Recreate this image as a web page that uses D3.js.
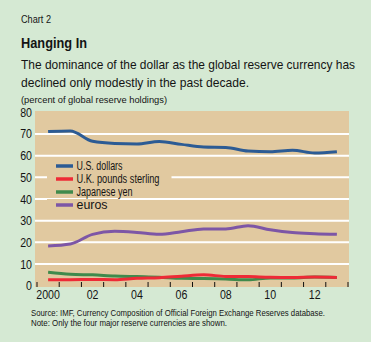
<!DOCTYPE html>
<html>
<head>
<meta charset="utf-8">
<script src="https://cdn.jsdelivr.net/npm/d3@7"></script>
<style>
  body { margin: 0; background: #d5e9d3; }
  svg { display: block; }
  text { font-family: "Liberation Sans", Arial, sans-serif; fill: #141414; }
</style>
</head>
<body>
<div id="chart"></div>
<script>
// data
var years = [2000, 2001, 2002, 2003, 2004, 2005, 2006, 2007, 2008, 2009, 2010, 2011, 2012, 2013];
var usDollars = [71.1, 71.4, 66.6, 65.6, 65.4, 66.5, 65.2, 64.0, 63.8, 62.1, 61.8, 62.5, 61.2, 61.8];
var poundsSterling = [2.8, 2.8, 2.9, 2.8, 3.4, 3.7, 4.4, 5.0, 4.3, 4.2, 3.9, 3.8, 4.0, 3.8];
var japaneseYen = [6.2, 5.3, 5.0, 4.5, 4.2, 3.9, 3.4, 3.3, 3.1, 2.7, 3.6, 3.6, 4.0, 3.8];
var euros = [18.3, 19.2, 23.7, 25.1, 24.6, 23.7, 24.9, 26.2, 26.2, 27.7, 25.8, 24.5, 24.0, 23.7];
var yTicks = [0, 10, 20, 30, 40, 50, 60, 70, 80];
var xLabels = {2000: "2000", 2002: "02", 2004: "04", 2006: "06", 2008: "08", 2010: "10", 2012: "12"};

var series = [
  { name: "U.S. dollars", values: usDollars, color: "#2c5b94", w: 46 },
  { name: "U.K. pounds sterling", values: poundsSterling, color: "#ee2a36", w: 83 },
  { name: "Japanese yen", values: japaneseYen, color: "#3f8a4c", w: 56 },
  { name: "euros", values: euros, color: "#7d56a6", w: 31 }
];

const width = 371, height = 342;
const plot = { left: 35, right: 349, top: 111, bottom: 287 };

const svg = d3.select("#chart").append("svg")
  .attr("width", width)
  .attr("height", height);

// squeeze text horizontally, the original face is a condensed one
function squeeze(sel, ratio) {
  sel.each(function () {
    var n = this.getComputedTextLength();
    d3.select(this).attr("textLength", n * ratio).attr("lengthAdjust", "spacingAndGlyphs");
  });
}
function addText(x, y, size, str, len, bold) {
  var t = svg.append("text").attr("x", x).attr("y", y).attr("font-size", size + "px").text(str);
  if (bold) t.attr("font-weight", "bold");
  t.attr("textLength", len).attr("lengthAdjust", "spacingAndGlyphs");
  return t;
}

// titles
addText(21, 23, 10, "Chart 2", 30);
addText(21, 48, 15.5, "Hanging In", 66, true);
addText(21, 69, 12.2, "The dominance of the dollar as the global reserve currency has", 334);
addText(21, 87, 12.2, "declined only modestly in the past decade.", 228);
addText(21, 103, 9.5, "(percent of global reserve holdings)", 146);

const xScale = d3.scaleBand()
  .domain(years)
  .range([37, 348]);

const yScale = d3.scaleLinear()
  .domain([0, 80])
  .range([285.7, 112.3]);

// plot background
svg.append("rect")
  .attr("x", plot.left)
  .attr("y", plot.top)
  .attr("width", plot.right - plot.left)
  .attr("height", plot.bottom - plot.top)
  .attr("fill", "#e1c9a0");

// gridlines
svg.append("g")
  .selectAll("line")
  .data(yTicks.filter(d => d > 0 && d < 80))
  .enter().append("line")
  .attr("x1", plot.left)
  .attr("x2", plot.right)
  .attr("y1", d => yScale(d))
  .attr("y2", d => yScale(d))
  .attr("stroke", "#fff")
  .attr("stroke-width", 2);

// y labels
svg.append("g")
  .selectAll("text")
  .data(yTicks)
  .enter().append("text")
  .attr("x", 32)
  .attr("y", d => yScale(d))
  .attr("dy", "0.36em")
  .attr("text-anchor", "end")
  .attr("font-size", "12.5px")
  .text(d => d)
  .call(squeeze, 0.85);

// x ticks at band edges
var tickPos = years.map(d => xScale(d)).concat([xScale.range()[1]]);
svg.append("g")
  .selectAll("line")
  .data(tickPos)
  .enter().append("line")
  .attr("x1", d => d)
  .attr("x2", d => d)
  .attr("y1", plot.bottom - 5)
  .attr("y2", plot.bottom)
  .attr("stroke", "#111")
  .attr("stroke-width", 1);

// x labels
svg.append("g")
  .selectAll("text")
  .data(years.filter(d => xLabels[d]))
  .enter().append("text")
  .attr("x", d => xScale(d) + xScale.bandwidth() / 2)
  .attr("y", 298.5)
  .attr("text-anchor", "middle")
  .attr("font-size", "12.5px")
  .text(d => xLabels[d])
  .call(squeeze, 0.85);

// legend, each row has a background patch that breaks the gridlines
var legend = svg.append("g");
series.forEach(function (s, i) {
  var y = 166 + i * 13;
  var g = legend.append("g");
  g.append("rect")
    .attr("fill", "#e1c9a0")
    .attr("x", 47).attr("y", y - 6)
    .attr("width", 76.5 + s.w + 12 - 47).attr("height", 12);
  g.append("line")
    .attr("x1", 56).attr("x2", 73)
    .attr("y1", y).attr("y2", y)
    .attr("stroke", s.color)
    .attr("stroke-width", 3.5);
  g.append("text")
    .attr("x", 76.5)
    .attr("y", y)
    .attr("dy", "0.36em")
    .attr("font-size", "12px")
    .attr("textLength", s.w)
    .attr("lengthAdjust", "spacingAndGlyphs")
    .text(s.name);
});

// lines
var line = d3.line()
  .x((d, i) => xScale(years[i]) + xScale.bandwidth() / 2)
  .y(d => yScale(d))
  .curve(d3.curveMonotoneX);

var drawOrder = [series[0], series[3], series[2], series[1]];
svg.append("g")
  .selectAll("path")
  .data(drawOrder)
  .enter().append("path")
  .attr("d", d => line(d.values))
  .attr("fill", "none")
  .attr("stroke", d => d.color)
  .attr("stroke-width", 3)
  .attr("stroke-linejoin", "round");

// notes
addText(31, 316, 9, "Source: IMF, Currency Composition of Official Foreign Exchange Reserves database.", 294);
addText(31, 326, 9, "Note: Only the four major reserve currencies are shown.", 196);
</script>
</body>
</html>
